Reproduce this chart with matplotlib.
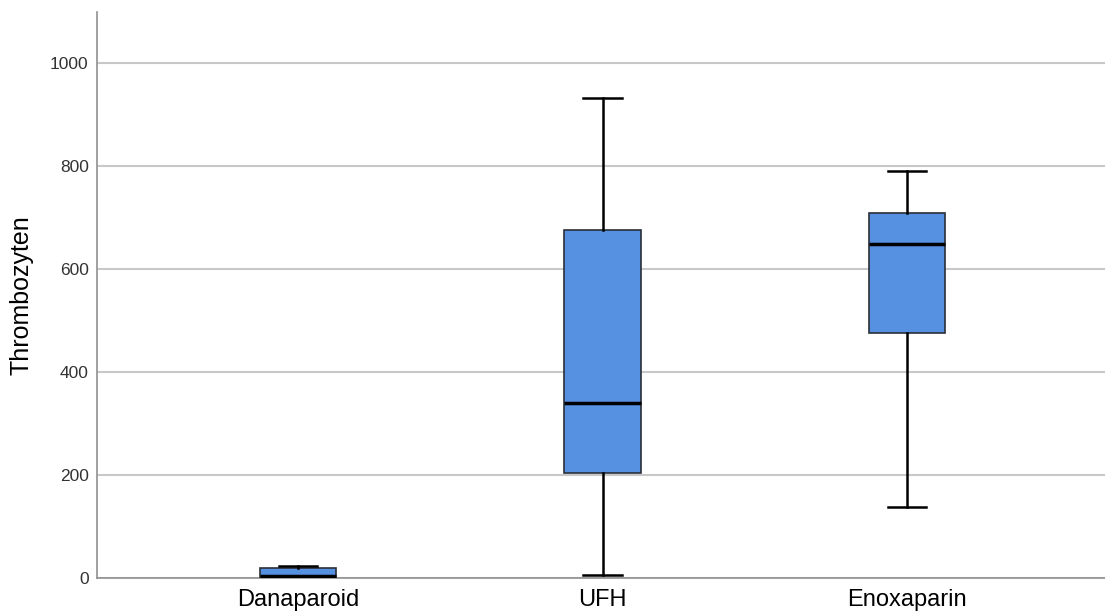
import matplotlib
matplotlib.use("Agg")
import matplotlib.pyplot as plt

plt.rcParams['font.family'] = ['Liberation Sans', 'DejaVu Sans']

# Box plot summary values
groups = ['Danaparoid', 'UFH', 'Enoxaparin']
whisker_low = [0, 6, 138]
q1 = [1, 204, 476]
median = [3, 340, 649]
q3 = [19, 676, 709]
whisker_high = [24, 932, 790]

stats = []
for i in range(len(groups)):
    stats.append({'label': groups[i], 'whislo': whisker_low[i], 'q1': q1[i],
                  'med': median[i], 'q3': q3[i], 'whishi': whisker_high[i],
                  'fliers': []})

fig = plt.figure(figsize=(11.05, 6.15), dpi=100)
ax = fig.add_axes([0.0878, 0.0602, 0.9122, 0.9203])

ax.bxp(stats, positions=[1, 2, 3], widths=0.25, patch_artist=True,
       showfliers=False,
       boxprops=dict(facecolor='#5591e0', edgecolor='#2a2f3a', linewidth=1.2),
       medianprops=dict(color='black', linewidth=2.5),
       whiskerprops=dict(color='black', linewidth=1.8),
       capprops=dict(color='black', linewidth=1.8),
       capwidths=0.125, zorder=3)

ax.set_xlim(0.34, 3.65)
ax.set_ylim(0, 1100)
ax.set_yticks([0, 200, 400, 600, 800, 1000])
ax.yaxis.grid(True, color='#c8c8c8', linewidth=1.5, zorder=0)
ax.set_axisbelow(True)

for s in ['top', 'right']:
    ax.spines[s].set_visible(False)
for s in ['left', 'bottom']:
    ax.spines[s].set_color('#909090')
    ax.spines[s].set_linewidth(1.2)

ax.tick_params(axis='y', length=0, pad=6, labelsize=12.5, labelcolor='#333333')
ax.tick_params(axis='x', length=0, pad=8, labelsize=17, labelcolor='black')
ax.set_ylabel('Thrombozyten', fontsize=18, labelpad=12)

fig.savefig('out.png', dpi=100)
